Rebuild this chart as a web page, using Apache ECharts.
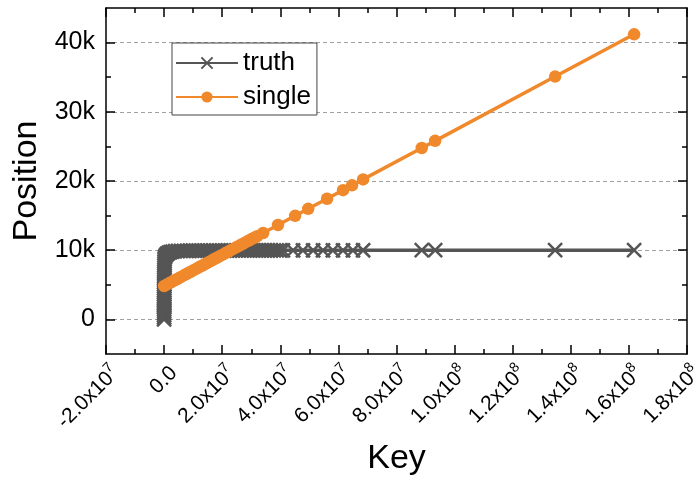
<!DOCTYPE html>
<html>
<head>
<meta charset="utf-8">
<script src="https://cdn.jsdelivr.net/npm/echarts@6/dist/echarts.min.js"></script>
<style>
  html, body { margin: 0; padding: 0; background: #fff; }
  #chart { width: 700px; height: 479px; }
</style>
</head>
<body>
<div id="chart"></div>
<script>
// ---- data ----
// Sorted keys and their true positions in the array
const truthKey = [
  1200, 5400, 9800, 14100, 18700, 23300, 27600, 32400, 37100, 41800,
  46300, 51000, 55900, 60400, 65200, 70100, 74800, 79500, 84600, 89300,
  94100, 99200, 104000, 109300, 114600, 120100, 126400, 133800, 143500, 158000,
  290000, 560000, 980000, 1520000, 2150000, 2900000, 3800000,
  4800000, 5800000, 6800000, 7800000, 8800000, 9800000, 10800000, 11800000, 12800000, 13800000,
  14800000, 15800000, 16800000, 17800000, 18800000, 19800000, 20800000, 21800000, 22800000, 23800000,
  24800000, 25800000, 26800000, 27800000, 28800000, 29800000, 30800000, 31800000, 32800000, 33800000,
  34800000, 35800000, 36800000, 37800000, 38800000, 39800000, 40900000,
  44400000, 47800000, 51300000, 54700000, 58100000, 61600000, 65000000, 68500000,
  88700000, 93300000, 134600000, 161800000
];
const truthPos = [
  0, 300, 600, 900, 1200, 1500, 1800, 2100, 2400, 2700,
  3000, 3300, 3600, 3900, 4200, 4500, 4800, 5100, 5400, 5700,
  6000, 6300, 6600, 6900, 7200, 7500, 7800, 8100, 8400, 8700,
  9000, 9250, 9450, 9600, 9720, 9800, 9860,
  9890, 9900, 9908, 9914, 9920, 9925, 9929, 9933, 9936, 9939,
  9942, 9944, 9946, 9948, 9950, 9952, 9954, 9956, 9957, 9959,
  9960, 9961, 9963, 9964, 9965, 9966, 9967, 9968, 9969, 9970,
  9971, 9972, 9973, 9974, 9975, 9976, 9977,
  9978, 9980, 9982, 9984, 9986, 9988, 9990, 9992,
  9995, 9996, 9998, 9999
];

// Keys and the positions predicted by the single linear model
const singleKey = [
  0, 1000000, 2000000, 3000000, 4000000, 5000000, 6000000, 7000000, 8000000, 9000000,
  10000000, 11000000, 12000000, 13000000, 14000000, 15000000, 16000000, 17000000, 18000000, 19000000,
  20000000, 21000000, 22000000, 23000000, 24000000, 25000000, 26000000, 27000000, 28000000, 29000000,
  30000000, 31000000, 32000000,
  34100000, 39200000, 45100000, 49600000, 56100000, 61600000, 64700000, 68500000,
  88700000, 93300000, 134600000, 161800000
];
const singlePos = [
  4830, 5050, 5280, 5500, 5730, 5950, 6180, 6400, 6630, 6850,
  7080, 7300, 7530, 7750, 7970, 8200, 8420, 8650, 8870, 9100,
  9320, 9550, 9770, 10000, 10220, 10450, 10670, 10900, 11120, 11350,
  11570, 11800, 12020,
  12490, 13640, 14970, 15980, 17440, 18680, 19370, 20230,
  24770, 25800, 35090, 41200
];

// Axis ticks and labels
const X_MIN = -20000000, X_MAX = 180000000, X_STEP = 20000000;
const xTickLabels = [
  ['-2.0x10', '7'], ['0.0', ''], ['2.0x10', '7'], ['4.0x10', '7'], ['6.0x10', '7'],
  ['8.0x10', '7'], ['1.0x10', '8'], ['1.2x10', '8'], ['1.4x10', '8'], ['1.6x10', '8'], ['1.8x10', '8']
];
const Y_MIN = -5000, Y_MAX = 45000;
const yTickValues = [0, 10000, 20000, 30000, 40000];
const yTickLabels = ['0', '10k', '20k', '30k', '40k'];
const yMinorValues = [5000, 15000, 25000, 35000];

// ---- chart ----
const FONT = '"Liberation Sans", Arial, sans-serif';
const GRAY = '#555555';
const ORANGE = '#F0892C';
const AXIS_COLOR = '#000';
const AXIS_W = 1.5;

const zip = (a, b) => a.map((v, i) => [v, b[i]]);

const chart = echarts.init(document.getElementById('chart'), null, { renderer: 'canvas' });

function xAxisBase(extra) {
  return Object.assign({
    type: 'value',
    min: X_MIN, max: X_MAX, interval: X_STEP,
    axisLine: { show: true, onZero: false, lineStyle: { color: AXIS_COLOR, width: AXIS_W } },
    axisTick: { show: true, inside: true, length: 9, lineStyle: { color: AXIS_COLOR, width: AXIS_W } },
    minorTick: { show: true, splitNumber: 2, length: 5, lineStyle: { color: AXIS_COLOR, width: AXIS_W } },
    splitLine: { show: false },
    axisLabel: { show: false }
  }, extra);
}

function yAxisBase(extra) {
  return Object.assign({
    type: 'value',
    min: Y_MIN, max: Y_MAX, interval: 5000,
    axisLine: { show: false, onZero: false },
    axisTick: { show: false },
    splitLine: { show: false },
    axisLabel: { show: false }
  }, extra);
}

const option = {
  animation: false,
  backgroundColor: '#fff',
  textStyle: { fontFamily: FONT },
  grid: { left: 106, right: 13, top: 8, bottom: 125, containLabel: false, outerBoundsMode: 'none' },
  legend: {
    orient: 'vertical',
    left: 172, top: 43,
    data: ['truth', 'single'],
    itemWidth: 62, itemHeight: 14, itemGap: 8,
    padding: [7, 6, 5, 3],
    backgroundColor: '#fff',
    borderColor: '#444', borderWidth: 1, borderRadius: 0,
    textStyle: { fontSize: 26, color: '#000', fontFamily: FONT },
    selectedMode: false
  },
  xAxis: [
    xAxisBase({
      position: 'bottom',
      name: 'Key',
      nameLocation: 'middle',
      nameGap: 88,
      nameTextStyle: { fontSize: 34, color: '#000', fontFamily: FONT },
      axisLabel: {
        show: true,
        rotate: 45,
        margin: 6,
        verticalAlign: 'top',
        color: '#000',
        formatter: function (v) {
          const t = xTickLabels[Math.round((v - X_MIN) / X_STEP)];
          if (!t) return '';
          return t[1] ? '{m|' + t[0] + '}{e|' + t[1] + '}' : '{m|' + t[0] + '}';
        },
        rich: {
          m: { fontSize: 21, lineHeight: 28, color: '#000', fontFamily: FONT },
          e: { fontSize: 14, lineHeight: 14, verticalAlign: 'top', color: '#000', fontFamily: FONT }
        }
      }
    }),
    xAxisBase({ position: 'top' })
  ],
  yAxis: [
    yAxisBase({
      position: 'left',
      name: 'Position',
      nameLocation: 'middle',
      nameGap: 54,
      nameTextStyle: { fontSize: 34, color: '#000', fontFamily: FONT },
      axisLine: { show: true, onZero: false, lineStyle: { color: AXIS_COLOR, width: AXIS_W } },
      axisTick: { show: true, inside: true, length: 9, customValues: yTickValues,
                  lineStyle: { color: AXIS_COLOR, width: AXIS_W } },
      splitLine: { show: true, lineStyle: { color: '#a0a0a0', width: 1, type: [4, 3] } },
      axisLabel: {
        show: true, margin: 11, fontSize: 25, color: '#000', fontFamily: FONT,
        customValues: yTickValues,
        formatter: function (v) {
          const i = yTickValues.indexOf(v);
          return i >= 0 ? yTickLabels[i] : '';
        }
      }
    }),
    yAxisBase({
      position: 'left',
      axisTick: { show: true, inside: true, length: 5, customValues: yMinorValues,
                  lineStyle: { color: AXIS_COLOR, width: AXIS_W } }
    }),
    yAxisBase({
      position: 'right',
      axisLine: { show: true, onZero: false, lineStyle: { color: AXIS_COLOR, width: AXIS_W } },
      axisTick: { show: true, inside: true, length: 9, customValues: yTickValues,
                  lineStyle: { color: AXIS_COLOR, width: AXIS_W } }
    }),
    yAxisBase({
      position: 'right',
      axisTick: { show: true, inside: true, length: 5, customValues: yMinorValues,
                  lineStyle: { color: AXIS_COLOR, width: AXIS_W } }
    })
  ],
  series: [
    {
      name: 'truth',
      type: 'line',
      xAxisIndex: 0, yAxisIndex: 0,
      data: zip(truthKey, truthPos),
      symbol: 'path://M0,0L10,10M10,0L0,10',
      symbolSize: 14,
      showAllSymbol: true,
      lineStyle: { color: GRAY, width: 3.5 },
      itemStyle: { color: GRAY, borderColor: GRAY, borderWidth: 2.5 },
      emphasis: { disabled: true },
      z: 2
    },
    {
      name: 'single',
      type: 'line',
      xAxisIndex: 0, yAxisIndex: 0,
      data: zip(singleKey, singlePos),
      symbol: 'circle',
      symbolSize: 12.5,
      showAllSymbol: true,
      lineStyle: { color: ORANGE, width: 3.5 },
      itemStyle: { color: ORANGE, borderWidth: 0 },
      emphasis: { disabled: true },
      z: 3
    }
  ]
};

chart.setOption(option);
</script>
</body>
</html>
